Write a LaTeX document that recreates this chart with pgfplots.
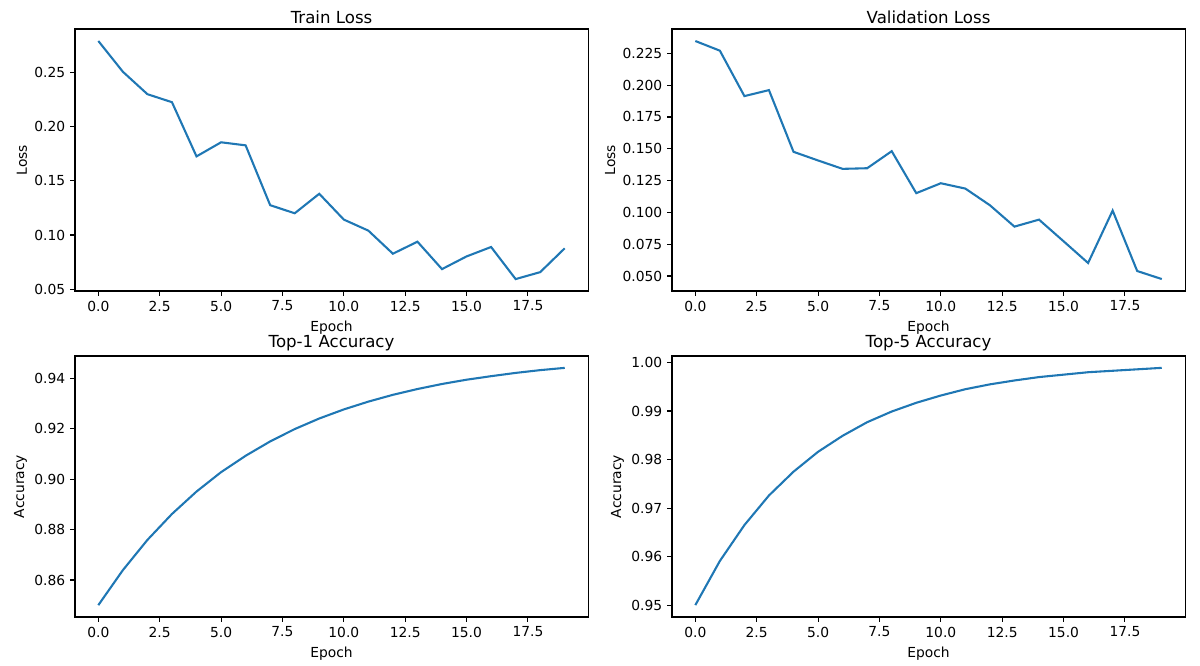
\documentclass[border=0pt]{standalone}
\usepackage{fontspec}
\setmainfont{DejaVu Sans}
\usepackage{pgfplots}
\pgfplotsset{compat=1.18}
\definecolor{mplblue}{HTML}{1F77B4}

% one panel of the 2x2 grid, sizes in bp (1 px = 0.72 bp)
\pgfplotsset{
  panel/.style={
    scale only axis, width=369.4bp, height=188.6bp, anchor=south west,
    xmin=-0.95, xmax=19.95, xtick={0,2.5,...,17.5},
    tick align=outside, tick pos=left,
    major tick length=3.5bp,
    tick style={black, line width=0.8bp},
    axis line style={line width=0.8bp},
    scaled y ticks=false, scaled x ticks=false,
    /pgf/number format/assume math mode=true,
    ticklabel style={font=\fontsize{10}{12}\selectfont},
    label style={font=\fontsize{10}{12}\selectfont},
    ylabel style={xshift=0pt, yshift=-1.5bp},
    title style={font=\fontsize{12}{14}\selectfont, yshift=-5.5bp},
    xlabel=Epoch,
    x tick label style={/pgf/number format/.cd, fixed, fixed zerofill, precision=1},
    y tick label style={/pgf/number format/.cd, fixed, fixed zerofill, precision=2},
  },
  curve/.style={mplblue, line width=1.5bp, mark=none},
}

\begin{document}
\begin{tikzpicture}
\useasboundingbox (0,0) rectangle (864bp,479.52bp);

\begin{axis}[panel, at={(54bp,270bp)}, title={Train Loss}, ylabel={Loss},
  ymin=0.0483, ymax=0.290, ytick={0.05,0.10,...,0.25}]
\addplot[curve] coordinates {
(0,0.279) (1,0.2506) (2,0.2299) (3,0.2225) (4,0.1725) (5,0.1855) (6,0.1827)
(7,0.1275) (8,0.1200) (9,0.1380) (10,0.1142) (11,0.1040) (12,0.0827)
(13,0.0938) (14,0.0685) (15,0.0802) (16,0.0889) (17,0.0593) (18,0.0657) (19,0.0877)};
\end{axis}

\begin{axis}[panel, at={(483.84bp,270bp)}, title={Validation Loss}, ylabel={Loss},
  ymin=0.0382, ymax=0.2441, ytick={0.05,0.075,...,0.226},
  y tick label style={/pgf/number format/.cd, fixed, fixed zerofill, precision=3}]
\addplot[curve] coordinates {
(0,0.2347) (1,0.2271) (2,0.1914) (3,0.1961) (4,0.1476) (5,0.1408) (6,0.1342)
(7,0.1347) (8,0.1481) (9,0.1151) (10,0.1229) (11,0.1187) (12,0.1056)
(13,0.0888) (14,0.0943) (15,0.0773) (16,0.0602) (17,0.1014) (18,0.0539) (19,0.0476)};
\end{axis}

\begin{axis}[panel, at={(54bp,35.28bp)}, height=187.9bp, title={Top-1 Accuracy}, ylabel={Accuracy},
  ymin=0.8453, ymax=0.9489, ytick={0.86,0.88,...,0.941}]
\addplot[curve] coordinates {
(0,0.8500) (1,0.8639) (2,0.8759) (3,0.8862) (4,0.8951) (5,0.9028) (6,0.9093)
(7,0.9150) (8,0.9199) (9,0.9241) (10,0.9277) (11,0.9308) (12,0.9335)
(13,0.9358) (14,0.9378) (15,0.9395) (16,0.9409) (17,0.9422) (18,0.9433) (19,0.9442)};
\end{axis}

\begin{axis}[panel, at={(483.84bp,35.28bp)}, height=187.9bp, title={Top-5 Accuracy}, ylabel={Accuracy},
  ymin=0.94755, ymax=1.00134, ytick={0.95,0.96,0.97,0.98,0.99,1.00}]
\addplot[curve] coordinates {
(0,0.9500) (1,0.9591) (2,0.9665) (3,0.9726) (4,0.9775) (5,0.9816) (6,0.9849)
(7,0.9877) (8,0.9899) (9,0.9917) (10,0.9932) (11,0.9945) (12,0.9955)
(13,0.9963) (14,0.9970) (15,0.9975) (16,0.9980) (17,0.9983) (18,0.9986) (19,0.9989)};
\end{axis}
\end{tikzpicture}
\end{document}
